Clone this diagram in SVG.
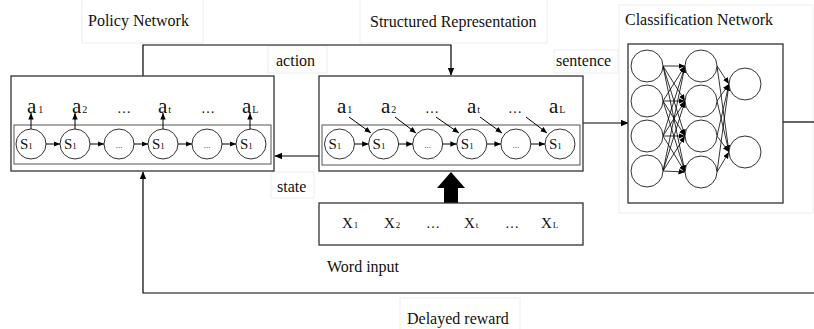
<svg xmlns="http://www.w3.org/2000/svg" width="814" height="329" viewBox="0 0 814 329">
<defs>
<marker id="ah" markerWidth="8" markerHeight="8" refX="7" refY="4" orient="auto" markerUnits="userSpaceOnUse"><path d="M0,0.8 L7.5,4 L0,7.2 Z" fill="#000"/></marker>
<marker id="ahs" markerWidth="7" markerHeight="7" refX="6.5" refY="3.5" orient="auto" markerUnits="userSpaceOnUse"><path d="M0,0.8 L6.5,3.5 L0,6.2 Z" fill="#000"/></marker>
</defs>
<style>
text{font-family:"Liberation Serif","Times New Roman",serif;fill:#111}
.lbl{font-size:16px}
.a{font-size:21px}
.sub{font-size:10px}
.s{font-size:15px}
.ss{font-size:9px}
.dots{font-size:14px}
.cd{font-size:9px}
.x{font-size:15px}
.box{fill:#fff;stroke:#333;stroke-width:1.3}
.inner{fill:none;stroke:#555;stroke-width:1}
.c{fill:#fff;stroke:#333;stroke-width:1}
.tb{fill:none;stroke:#eeeeee;stroke-width:1}
.ln{fill:none;stroke:#000;stroke-width:1.2}
.thin{fill:none;stroke:#000;stroke-width:1}
.nn{fill:none;stroke:#000;stroke-width:0.8}
</style>

<g id="label-boxes">
<rect class="tb" x="82" y="-1" width="121" height="44"/>
<rect class="tb" x="268" y="46" width="59" height="27"/>
<rect class="tb" x="360" y="-1" width="187" height="44"/>
<rect class="tb" x="554" y="50" width="64" height="23"/>
<rect class="tb" x="271" y="172" width="43" height="26"/>
<rect class="tb" x="619" y="5" width="194" height="208"/>
<rect class="tb" x="400" y="298" width="120" height="32"/>
</g>

<g id="connectors">
<polyline class="ln" points="143,76 143,45 451,45 451,75" marker-end="url(#ah)"/>
<line class="ln" x1="319" y1="156" x2="275" y2="156" marker-end="url(#ah)"/>
<line class="ln" x1="583" y1="123" x2="628" y2="123" marker-end="url(#ah)"/>
<line class="ln" x1="783" y1="122" x2="814" y2="122"/>
<polyline class="ln" points="814,293 143,293 143,172" marker-end="url(#ah)"/>
<polygon points="444,203 444,188 437,188 451,172 465,188 458,188 458,203" fill="#000"/>
</g>

<g id="policy-network">
<rect class="box" x="11" y="76" width="263" height="95"/>
<rect class="inner" x="14" y="125" width="257" height="39"/>
<g>
<circle class="c" cx="31" cy="144" r="15"/>
<circle class="c" cx="75" cy="144" r="15"/>
<circle class="c" cx="119" cy="144" r="15"/>
<circle class="c" cx="163" cy="144" r="15"/>
<circle class="c" cx="207" cy="144" r="15"/>
<circle class="c" cx="251" cy="144" r="15"/>
</g>
<text class="s" x="20" y="149">S<tspan class="ss">1</tspan></text>
<text class="s" x="64" y="149">S<tspan class="ss">1</tspan></text>
<text class="cd" x="119" y="148" text-anchor="middle">...</text>
<text class="s" x="152" y="149">S<tspan class="ss">1</tspan></text>
<text class="cd" x="207" y="148" text-anchor="middle">...</text>
<text class="s" x="240" y="149">S<tspan class="ss">1</tspan></text>
<g>
<line class="thin" x1="46" y1="144" x2="60" y2="144" marker-end="url(#ahs)"/>
<line class="thin" x1="90" y1="144" x2="104" y2="144" marker-end="url(#ahs)"/>
<line class="thin" x1="134" y1="144" x2="148" y2="144" marker-end="url(#ahs)"/>
<line class="thin" x1="178" y1="144" x2="192" y2="144" marker-end="url(#ahs)"/>
<line class="thin" x1="222" y1="144" x2="236" y2="144" marker-end="url(#ahs)"/>
</g>
<g>
<line class="thin" x1="31" y1="129" x2="31" y2="113" marker-end="url(#ahs)"/>
<line class="thin" x1="75" y1="129" x2="75" y2="113" marker-end="url(#ahs)"/>
<line class="thin" x1="163" y1="129" x2="163" y2="113" marker-end="url(#ahs)"/>
<line class="thin" x1="250" y1="129" x2="250" y2="113" marker-end="url(#ahs)"/>
</g>
<text class="a" x="27" y="113">a<tspan class="sub" dx="2">1</tspan></text>
<text class="a" x="72" y="113">a<tspan class="sub" dx="1">2</tspan></text>
<text class="dots" x="117" y="113">…</text>
<text class="a" x="158" y="113">a<tspan class="sub" dx="1">t</tspan></text>
<text class="dots" x="201" y="113">…</text>
<text class="a" x="242" y="113">a<tspan class="sub" dx="1">L</tspan></text>
</g>

<g id="structured-representation">
<rect class="box" x="319" y="76" width="264" height="95"/>
<rect class="inner" x="322" y="125" width="258" height="40"/>
<circle class="c" cx="339.5" cy="144" r="15"/>
<circle class="c" cx="383.6" cy="144" r="15"/>
<circle class="c" cx="427.7" cy="144" r="15"/>
<circle class="c" cx="471.8" cy="144" r="15"/>
<circle class="c" cx="515.9" cy="144" r="15"/>
<circle class="c" cx="560" cy="144" r="15"/>
<text class="s" x="328.5" y="149">S<tspan class="ss">1</tspan></text>
<text class="s" x="372.6" y="149">S<tspan class="ss">1</tspan></text>
<text class="cd" x="427.7" y="148" text-anchor="middle">...</text>
<text class="s" x="460.8" y="149">S<tspan class="ss">1</tspan></text>
<text class="cd" x="515.9" y="148" text-anchor="middle">...</text>
<text class="s" x="549" y="149">S<tspan class="ss">1</tspan></text>
<line class="thin" x1="354.5" y1="144" x2="368.6" y2="144" marker-end="url(#ahs)"/>
<line class="thin" x1="398.6" y1="144" x2="412.7" y2="144" marker-end="url(#ahs)"/>
<line class="thin" x1="442.7" y1="144" x2="456.8" y2="144" marker-end="url(#ahs)"/>
<line class="thin" x1="486.8" y1="144" x2="500.9" y2="144" marker-end="url(#ahs)"/>
<line class="thin" x1="530.9" y1="144" x2="545" y2="144" marker-end="url(#ahs)"/>
<line class="thin" x1="349" y1="117" x2="371" y2="133" marker-end="url(#ahs)"/>
<line class="thin" x1="395" y1="117" x2="416" y2="133" marker-end="url(#ahs)"/>
<line class="thin" x1="436" y1="117" x2="459" y2="133" marker-end="url(#ahs)"/>
<line class="thin" x1="480" y1="117" x2="502" y2="133" marker-end="url(#ahs)"/>
<line class="thin" x1="526" y1="117" x2="547" y2="133" marker-end="url(#ahs)"/>
<text class="a" x="337" y="113">a<tspan class="sub" dx="1">1</tspan></text>
<text class="a" x="381" y="113">a<tspan class="sub" dx="1">2</tspan></text>
<text class="dots" x="425" y="113">…</text>
<text class="a" x="467" y="113">a<tspan class="sub" dx="1">t</tspan></text>
<text class="dots" x="508" y="113">…</text>
<text class="a" x="549" y="113">a<tspan class="sub" dx="1">L</tspan></text>
</g>

<g id="word-input">
<rect class="box" x="319" y="203" width="264" height="42"/>
<text class="x" x="342" y="228">X<tspan class="ss" dx="1">1</tspan></text>
<text class="x" x="384" y="228">X<tspan class="ss" dx="1">2</tspan></text>
<text class="dots" x="426" y="228">…</text>
<text class="x" x="464" y="228">X<tspan class="ss" dx="1">t</tspan></text>
<text class="dots" x="505" y="228">…</text>
<text class="x" x="541" y="228">X<tspan class="ss" dx="1">L</tspan></text>
</g>

<g id="classification-network">
<rect class="box" x="628" y="44" width="155" height="159"/>
<g class="nn">
<line x1="663" y1="66" x2="685" y2="66" marker-end="url(#ahs)"/>
<line x1="663" y1="66" x2="685" y2="101" marker-end="url(#ahs)"/>
<line x1="663" y1="66" x2="685" y2="136" marker-end="url(#ahs)"/>
<line x1="663" y1="66" x2="685" y2="172" marker-end="url(#ahs)"/>
<line x1="663" y1="101" x2="685" y2="66" marker-end="url(#ahs)"/>
<line x1="663" y1="101" x2="685" y2="101" marker-end="url(#ahs)"/>
<line x1="663" y1="101" x2="685" y2="136" marker-end="url(#ahs)"/>
<line x1="663" y1="101" x2="685" y2="172" marker-end="url(#ahs)"/>
<line x1="663" y1="136" x2="685" y2="66" marker-end="url(#ahs)"/>
<line x1="663" y1="136" x2="685" y2="101" marker-end="url(#ahs)"/>
<line x1="663" y1="136" x2="685" y2="136" marker-end="url(#ahs)"/>
<line x1="663" y1="136" x2="685" y2="172" marker-end="url(#ahs)"/>
<line x1="663" y1="171" x2="685" y2="66" marker-end="url(#ahs)"/>
<line x1="663" y1="171" x2="685" y2="101" marker-end="url(#ahs)"/>
<line x1="663" y1="171" x2="685" y2="136" marker-end="url(#ahs)"/>
<line x1="663" y1="171" x2="685" y2="172" marker-end="url(#ahs)"/>
<line x1="717" y1="66" x2="729" y2="84" marker-end="url(#ahs)"/>
<line x1="717" y1="66" x2="729" y2="152" marker-end="url(#ahs)"/>
<line x1="717" y1="101" x2="729" y2="84" marker-end="url(#ahs)"/>
<line x1="717" y1="101" x2="729" y2="152" marker-end="url(#ahs)"/>
<line x1="717" y1="136" x2="729" y2="84" marker-end="url(#ahs)"/>
<line x1="717" y1="136" x2="729" y2="152" marker-end="url(#ahs)"/>
<line x1="717" y1="172" x2="729" y2="84" marker-end="url(#ahs)"/>
<line x1="717" y1="172" x2="729" y2="152" marker-end="url(#ahs)"/>
</g>
<circle class="c" cx="647" cy="66" r="16"/>
<circle class="c" cx="647" cy="101" r="16"/>
<circle class="c" cx="647" cy="136" r="16"/>
<circle class="c" cx="647" cy="171" r="16"/>
<circle class="c" cx="701" cy="66" r="16"/>
<circle class="c" cx="701" cy="101" r="16"/>
<circle class="c" cx="701" cy="136" r="16"/>
<circle class="c" cx="701" cy="172" r="16"/>
<circle class="c" cx="745" cy="84" r="16"/>
<circle class="c" cx="745" cy="152" r="16"/>
</g>

<g id="labels">
<text class="lbl" x="88" y="26">Policy Network</text>
<text class="lbl" x="370" y="27">Structured Representation</text>
<text class="lbl" x="625" y="25">Classification Network</text>
<text class="lbl" x="276" y="66">action</text>
<text class="lbl" x="556" y="66">sentence</text>
<text class="lbl" x="277" y="192">state</text>
<text class="lbl" x="327" y="272">Word input</text>
<text class="lbl" x="407" y="324">Delayed reward</text>
</g>
</svg>
